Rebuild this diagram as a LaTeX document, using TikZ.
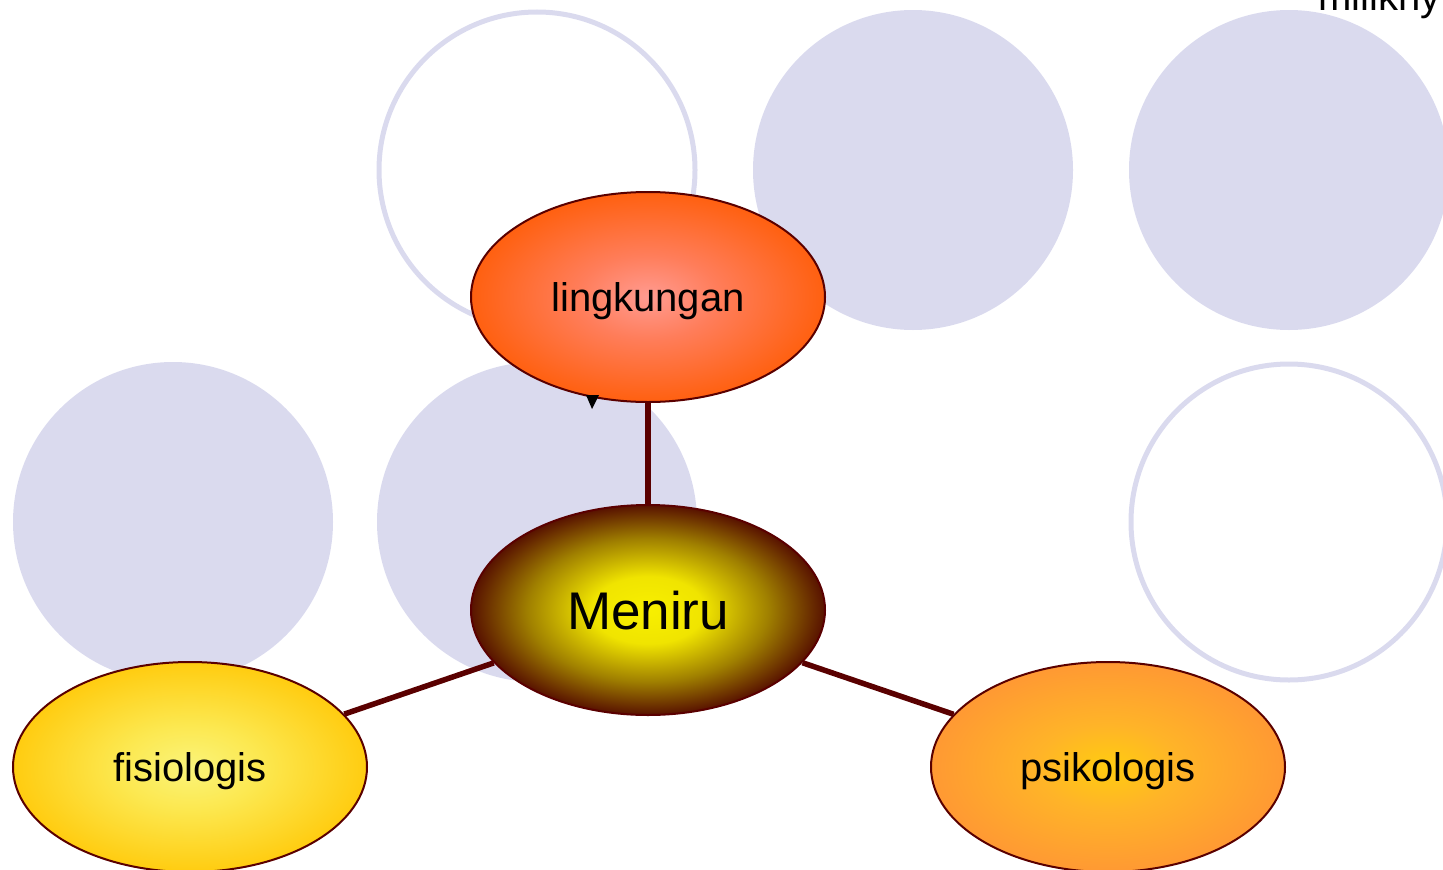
\documentclass[tikz,border=0pt]{standalone}
\usepackage{fontspec}
\setmainfont{Liberation Sans}
\usetikzlibrary{shapes.geometric}
\definecolor{lav}{RGB}{218,218,238}
\definecolor{brd}{RGB}{90,0,0}
\pgfdeclareradialshading{shMeniru}{\pgfpoint{0bp}{0bp}}{%
  color(0bp)=(rgb,255:red,248;green,240;blue,0);
  color(8bp)=(rgb,255:red,240;green,228;blue,0);
  color(17bp)=(rgb,255:red,160;green,128;blue,0);
  color(25bp)=(rgb,255:red,88;green,18;blue,0);
  color(50bp)=(rgb,255:red,88;green,18;blue,0)}
\pgfdeclareradialshading{shLing}{\pgfpoint{0bp}{0bp}}{%
  color(0bp)=(rgb,255:red,255;green,155;blue,145);
  color(10bp)=(rgb,255:red,255;green,125;blue,90);
  color(25bp)=(rgb,255:red,255;green,96;blue,16);
  color(50bp)=(rgb,255:red,255;green,96;blue,16)}
\pgfdeclareradialshading{shFisio}{\pgfpoint{0bp}{0bp}}{%
  color(0bp)=(rgb,255:red,250;green,244;blue,122);
  color(10bp)=(rgb,255:red,252;green,232;blue,80);
  color(25bp)=(rgb,255:red,255;green,204;blue,16);
  color(50bp)=(rgb,255:red,255;green,204;blue,16)}
\pgfdeclareradialshading{shPsiko}{\pgfpoint{0bp}{0bp}}{%
  color(0bp)=(rgb,255:red,255;green,204;blue,16);
  color(10bp)=(rgb,255:red,255;green,180;blue,40);
  color(25bp)=(rgb,255:red,255;green,153;blue,51);
  color(50bp)=(rgb,255:red,255;green,153;blue,51)}
\tikzset{
  bubble/.style={ellipse, draw=brd, line width=2pt, minimum width=354pt,
    minimum height=210pt, inner sep=0pt, text depth=0pt,
    font=\fontsize{40}{44}\selectfont},
  disc/.style={fill=lav},
  ring/.style={draw=lav, line width=5pt},
  link/.style={draw=brd, line width=5.5pt},
}
\begin{document}
\begin{tikzpicture}[x=1pt,y=-1pt]
\useasboundingbox (0,0) rectangle (1443,870);
% background circles
\draw[ring] (537,170) circle (158);
\fill[disc] (913,170) circle (160);
\fill[disc] (1289,170) circle (160);
\fill[disc] (173,522) circle (160);
\fill[disc] (537,522) circle (160);
\draw[ring] (1289,522) circle (158);
% text top right
\node[anchor=base west, inner sep=0pt, font=\fontsize{40}{44}\selectfont] (mil) at (1318,10) {milikny};
% nodes
\node[bubble, shading=shLing] (ling) at (648,297) {lingkungan};
\node[bubble, shading=shMeniru, font=\fontsize{53}{58}\selectfont] (meniru) at (648,610) {Meniru};
\node[bubble, shading=shFisio] (fisio) at (190,767) {fisiologis};
\node[bubble, shading=shPsiko] (psiko) at (1108,767) {psikologis};
% connectors
\draw[link] (ling) -- (meniru);
\draw[link] (meniru) -- (fisio);
\draw[link] (meniru) -- (psiko);
% small arrowhead mark
\fill[black] (586,395) -- (599,395) -- (592,409) -- cycle;
\end{tikzpicture}
\end{document}
